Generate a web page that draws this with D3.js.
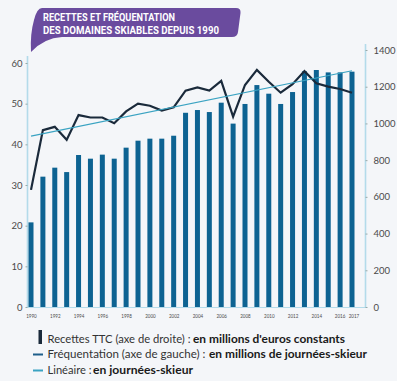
<!DOCTYPE html>
<html><head><meta charset="utf-8">
<script src="https://cdn.jsdelivr.net/npm/d3@7/dist/d3.min.js"></script>
<style>
html,body{margin:0;padding:0;background:#f4f6f9;}
svg{display:block;}
</style></head>
<body>
<script>
const years = d3.range(1990, 2018);
const recettes = [461,710,759,735,828,808,830,808,868,906,917,917,933,1058,1073,1062,1113,999,1106,1209,1162,1106,1171,1284,1291,1278,1278,1282];
const frequentation = [28.8,43.5,44.3,41.1,47.2,46.6,46.6,45.2,48.1,50.0,49.5,48.3,49.1,53.2,54.0,53.2,55.6,46.8,54.6,58.3,55.4,52.7,54.8,58.0,55.0,54.2,53.6,52.7];
const trendYears = [1990, 2017];
const trendValues = [42.0, 58.1];
const leftTicks = [0,10,20,30,40,50,60];
const rightTicks = [0,200,400,600,800,1000,1200,1400];
const yearLabels = [1990,1992,1994,1996,1998,2000,2002,2004,2006,2008,2010,2012,2014,2016,2017];
const titleLines = ["RECETTES ET FRÉQUENTATION","DES DOMAINES SKIABLES DEPUIS 1990"];
const legendItems = [
  {normal:"Recettes TTC (axe de droite) : ", bold:"en millions d'euros constants"},
  {normal:"Fréquentation (axe de gauche) : ", bold:"en millions de journées-skieur"},
  {normal:"Linéaire : ", bold:"en journées-skieur"}
];

const W=397,H=381;
const svg=d3.select("body").append("svg").attr("width",W).attr("height",H);
svg.append("rect").attr("width",W).attr("height",H).attr("fill","#f4f6f9");

const x=d3.scalePoint().domain(years).range([31,352]);
const yL=d3.scaleLinear().domain([0,60]).range([307,63]);
const yR=d3.scaleLinear().domain([0,1400]).range([307,50]);
const axisCol="#b3dbea", barCol="#0d6392", lineCol="#1a2a3b", trendCol="#3aa3c2", txtCol="#4a4a4a";

// title banner
svg.append("path")
  .attr("d","M42,8 L236,8 Q241,8 240.5,13 L238,32 Q237.5,37 232,37 L62,37 Q44,38 31,52 Q30,34 34,20 Q37,8 42,8 Z")
  .attr("fill","#6a4b9e");
const tl=[{x:43,y:20.5,w:132},{x:43,y:33.5,w:176}];
titleLines.forEach((t,i)=>{
  svg.append("text").attr("x",tl[i].x).attr("y",tl[i].y).text(t)
    .attr("fill","#fff").attr("font-family","Roboto, sans-serif").attr("font-weight","bold").attr("font-size",10)
    .attr("textLength",tl[i].w).attr("lengthAdjust","spacingAndGlyphs");
});

// axes lines
svg.append("line").attr("x1",27.5).attr("x2",27.5).attr("y1",56).attr("y2",307).attr("stroke",axisCol).attr("stroke-width",1.6);
svg.append("line").attr("x1",365.5).attr("x2",365.5).attr("y1",44).attr("y2",307).attr("stroke",axisCol).attr("stroke-width",1.6);
svg.append("line").attr("x1",27).attr("x2",366).attr("y1",307.5).attr("y2",307.5).attr("stroke",axisCol).attr("stroke-width",1.2);

// left axis
const gL=svg.append("g").attr("transform","translate(27.5,0)")
  .call(d3.axisLeft(yL).tickValues(leftTicks).tickSize(2).tickPadding(3).tickFormat(d3.format("d")));
gL.select(".domain").remove();
gL.selectAll(".tick line").attr("stroke","#9aa");
gL.selectAll("text").attr("fill",txtCol).attr("font-family","Lato, sans-serif").attr("font-size",9.5);

// right axis
const gR=svg.append("g").attr("transform","translate(365.5,0)")
  .call(d3.axisRight(yR).tickValues(rightTicks).tickSize(2).tickPadding(6).tickFormat(d3.format("d")));
gR.select(".domain").remove();
gR.selectAll(".tick line").attr("stroke","#9aa");
gR.selectAll("text").attr("fill",txtCol).attr("font-family","Lato, sans-serif").attr("font-size",9.5);

// bottom year labels
const gX=svg.append("g").attr("transform","translate(0,307)")
  .call(d3.axisBottom(x).tickValues(yearLabels).tickSize(0).tickPadding(7).tickFormat(d3.format("d")));
gX.select(".domain").remove();
gX.selectAll("text").attr("fill",txtCol).attr("font-family","Lato, sans-serif").attr("font-size",6.2)
  .attr("textLength",10.5).attr("lengthAdjust","spacingAndGlyphs")
  .attr("dx",d=>d===2017?1.5:(d===2016?-0.5:0));

// bars
const bw=5;
svg.append("g").selectAll("rect").data(years).join("rect")
  .attr("x",d=>x(d)-bw/2).attr("width",bw)
  .attr("y",(d,i)=>yR(recettes[i])).attr("height",(d,i)=>yR(0)-yR(recettes[i]))
  .attr("fill",barCol);

// frequentation line
svg.append("path").datum(years)
  .attr("d",d3.line().x(d=>x(d)).y((d,i)=>yL(frequentation[i])))
  .attr("fill","none").attr("stroke",lineCol).attr("stroke-width",2.2).attr("stroke-linejoin","miter");

// trend
svg.append("path").datum(trendYears)
  .attr("d",d3.line().x(d=>x(d)).y((d,i)=>yL(trendValues[i])))
  .attr("fill","none").attr("stroke",trendCol).attr("stroke-width",1.2);

// legend
const lg=svg.append("g");
lg.append("rect").attr("x",38.5).attr("y",330).attr("width",3.5).attr("height",14).attr("fill",lineCol);
lg.append("line").attr("x1",33).attr("x2",43).attr("y1",354.5).attr("y2",354.5).attr("stroke","#1f5f8a").attr("stroke-width",2);
lg.append("line").attr("x1",33).attr("x2",43).attr("y1",370.5).attr("y2",370.5).attr("stroke",trendCol).attr("stroke-width",2);
const lp=[{y:342.5,nw:143,bx:193,bw:152},{y:358,nw:158,bx:209,bw:158},{y:373.5,nw:44,bx:93,bw:100}];
legendItems.forEach((it,i)=>{
  lg.append("text").attr("x",47.5).attr("y",lp[i].y).text(it.normal)
    .attr("fill","#333").attr("font-family","Lato, sans-serif").attr("font-size",11.5)
    .attr("textLength",lp[i].nw).attr("lengthAdjust","spacingAndGlyphs");
  lg.append("text").attr("x",lp[i].bx).attr("y",lp[i].y).text(it.bold)
    .attr("fill","#1a1a1a").attr("font-family","Lato, sans-serif").attr("font-weight","bold").attr("font-size",11.5)
    .attr("textLength",lp[i].bw).attr("lengthAdjust","spacingAndGlyphs");
});
</script>
</body></html>
